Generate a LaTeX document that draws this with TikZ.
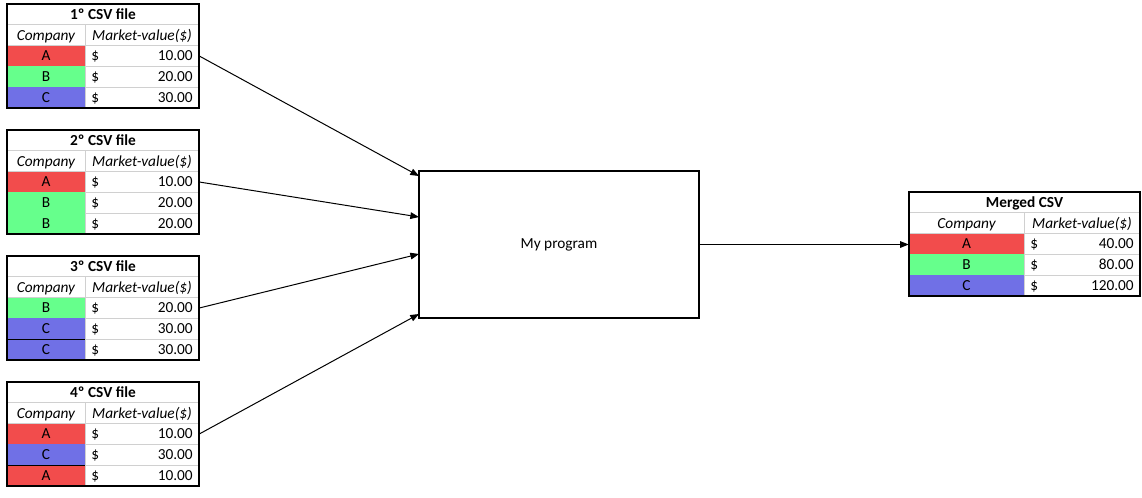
\documentclass[tikz,border=0pt]{standalone}
\usepackage{fontspec}
\setmainfont{Carlito}
\usetikzlibrary{arrows.meta}
\definecolor{cred}{HTML}{F24C4C}
\definecolor{cgreen}{HTML}{66FF8C}
\definecolor{cblue}{HTML}{7070E6}
\definecolor{cgrid}{HTML}{D0D0D0}
\def\rh{20.8}
\def\bo{4.8}
\tikzset{
  celltext/.style={inner sep=0pt, font=\fontsize{11.5}{13}\selectfont, anchor=base},
  titletext/.style={celltext, font=\fontsize{11.5}{13}\selectfont\bfseries},
  headtext/.style={celltext, font=\fontsize{11.5}{13}\selectfont\itshape},
  rowbox/.style={inner sep=0pt, minimum height={\rh*0.75pt}},
  gridline/.style={draw=cgrid, line width=0.75pt},
  outer/.style={draw=black, line width=0.8pt},
  progbox/.style={draw=black, line width=0.8pt, inner sep=0pt, font=\fontsize{11.5}{13}\selectfont},
  arrow/.style={draw=black, line width=0.75pt, -{Triangle[length=6.5pt,width=5pt]}},
}
% #1 name #2 left #3 split #4 right #5 top #6 title
\newcommand{\csvframe}[6]{%
  \draw[gridline] (#2,#5+\rh) -- (#4,#5+\rh);
  \draw[gridline] (#2,#5+2*\rh) -- (#4,#5+2*\rh);
  \draw[gridline] (#3,#5+\rh) -- (#3,#5+5*\rh);
  \draw[gridline] (#3,#5+3*\rh) -- (#4,#5+3*\rh);
  \draw[gridline] (#3,#5+4*\rh) -- (#4,#5+4*\rh);
  \node[titletext] (#1title) at ({(#2+#4)/2},#5+\rh/2+\bo) {#6};
  \node[headtext] (#1h1) at ({(#2+#3)/2},#5+1.5*\rh+\bo) {Company};
  \node[headtext] (#1h2) at ({(#3+#4)/2},#5+1.5*\rh+\bo) {Market-value(\$)};
}
% #1 name #2 left #3 split #4 right #5 row top #6 colour #7 letter #8 value
\newcommand{\csvrow}[8]{%
  \fill[#6] (#2,#5) rectangle (#3,#5+\rh);
  \node[rowbox, minimum width={(#4-#2)*0.75pt}] (#1) at ({(#2+#4)/2},#5+\rh/2) {};
  \node[celltext] (#1k) at ({(#2+#3)/2},#5+\rh/2+\bo) {#7};
  \node[celltext, anchor=base west] (#1d) at (#3+6,#5+\rh/2+\bo) {\$};
  \node[celltext, anchor=base east] (#1v) at (#4-6,#5+\rh/2+\bo) {#8};
}
\newcommand{\csvborder}[3]{% left right top
  \draw[outer] (#1,#3) rectangle (#2,#3+5*\rh);
}
\begin{document}
\begin{tikzpicture}[x=0.75pt,y=-0.75pt]
\useasboundingbox (0,0) rectangle (1142,497);

% Table 1
\csvrow{ta}{7}{85}{199}{4+2*\rh}{cred}{A}{10.00}
\csvrow{tb}{7}{85}{199}{4+3*\rh}{cgreen}{B}{20.00}
\csvrow{tc}{7}{85}{199}{4+4*\rh}{cblue}{C}{30.00}
\csvframe{t1}{7}{85}{199}{4}{1º CSV file}
\csvborder{7}{199}{4}

% Table 2
\csvrow{ua}{7}{85}{199}{130+2*\rh}{cred}{A}{10.00}
\csvrow{ub}{7}{85}{199}{130+3*\rh}{cgreen}{B}{20.00}
\csvrow{uc}{7}{85}{199}{130+4*\rh}{cgreen}{B}{20.00}
\csvframe{t2}{7}{85}{199}{130}{2º CSV file}
\csvborder{7}{199}{130}

% Table 3
\csvrow{va}{7}{85}{199}{256+2*\rh}{cgreen}{B}{20.00}
\csvrow{vb}{7}{85}{199}{256+3*\rh}{cblue}{C}{30.00}
\csvrow{vc}{7}{85}{199}{256+4*\rh}{cblue}{C}{30.00}
\csvframe{t3}{7}{85}{199}{256}{3º CSV file}
\draw[outer] (7,256+4*\rh) -- (85,256+4*\rh);
\csvborder{7}{199}{256}

% Table 4
\csvrow{wa}{7}{85}{199}{382+2*\rh}{cred}{A}{10.00}
\csvrow{wb}{7}{85}{199}{382+3*\rh}{cblue}{C}{30.00}
\csvrow{wc}{7}{85}{199}{382+4*\rh}{cred}{A}{10.00}
\csvframe{t4}{7}{85}{199}{382}{4º CSV file}
\draw[outer] (7,382+4*\rh) -- (85,382+4*\rh);
\csvborder{7}{199}{382}

% Merged
\csvrow{ma}{909}{1024}{1140}{192+2*\rh}{cred}{A}{40.00}
\csvrow{mb}{909}{1024}{1140}{192+3*\rh}{cgreen}{B}{80.00}
\csvrow{mc}{909}{1024}{1140}{192+4*\rh}{cblue}{C}{120.00}
\csvframe{tm}{909}{1024}{1140}{192}{Merged CSV}
\csvborder{909}{1140}{192}

% Program
\node[progbox, minimum width={280*0.75pt}, minimum height={147*0.75pt}] (prog) at (559,244.5) {My program};
\coordinate (in1) at (419,176);
\coordinate (in2) at (419,217);
\coordinate (in3) at (419,254);
\coordinate (in4) at (419,314);

\draw[arrow] (ta.east) -- (in1);
\draw[arrow] (ua.east) -- (in2);
\draw[arrow] (va.east) -- (in3);
\draw[arrow] (wa.east) -- (in4);
\draw[arrow] (prog.east) -- (prog.east -| ma.west);
\end{tikzpicture}
\end{document}
